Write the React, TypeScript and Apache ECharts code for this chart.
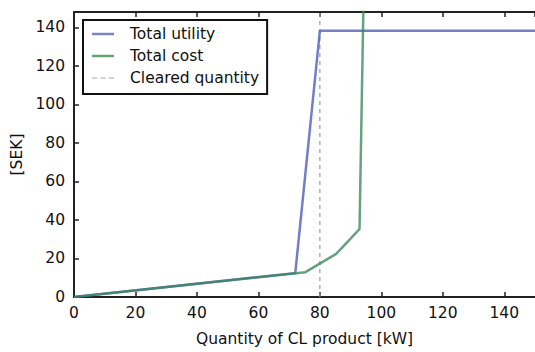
import React, { useEffect, useRef } from "react";
import * as echarts from "echarts";

const utilityPoints: [number, number][] = [
  [0, 0],
  [72, 12.4],
  [80, 138.2],
  [150, 138.2],
];
const costPoints: [number, number][] = [
  [0, 0],
  [75.3, 12.9],
  [85.3, 22.4],
  [92.9, 35.2],
  [94.6, 190],
];
const clearedQuantity = 80;
const xTicks = [0, 20, 40, 60, 80, 100, 120, 140];
const yTicks = [0, 20, 40, 60, 80, 100, 120, 140];
const xMax = 150;
const yMax = 148;

const FONT = "DejaVu Sans";
const FS = 15.5;
const AX = "#222222";

export default function App() {
  const ref = useRef<HTMLDivElement>(null);
  useEffect(() => {
    if (!ref.current) return;
    const chart = echarts.init(ref.current, null, { renderer: "svg" });
    const baseX = {
      type: "value" as const,
      min: 0,
      max: xMax,
      interval: xTicks[1] - xTicks[0],
      splitLine: { show: false },
      axisLine: { show: true, onZero: false, lineStyle: { color: AX, width: 2 } },
      axisTick: { show: true, inside: true, length: 5, lineStyle: { color: AX, width: 1.5 } },
    };
    chart.setOption({
      animation: false,
      backgroundColor: "#ffffff",
      textStyle: { fontFamily: FONT },
      grid: { left: 74, top: 12, right: -2, bottom: 50 },
      legend: {
        left: 83,
        top: 20,
        orient: "vertical",
        backgroundColor: "#ffffff",
        borderColor: "#111111",
        borderWidth: 2,
        borderRadius: 0,
        padding: [6, 8, 8, 9],
        itemWidth: 22,
        itemHeight: 14,
        itemGap: 6,
        textStyle: { fontFamily: FONT, fontSize: FS, color: "#111", padding: [0, 0, 0, 11] },
        data: [
          { name: "Total utility", icon: "path://M0,5.75 L22,5.75 L22,8.25 L0,8.25 Z", itemStyle: { color: "#7784c8" } },
          { name: "Total cost", icon: "path://M0,5.75 L22,5.75 L22,8.25 L0,8.25 Z", itemStyle: { color: "#62a474" } },
          {
            name: "Cleared quantity",
            icon: "path://M0,6.5 L5,6.5 L5,7.5 L0,7.5 Z M8,6.5 L13,6.5 L13,7.5 L8,7.5 Z M16,6.5 L21,6.5 L21,7.5 L16,7.5 Z",
            itemStyle: { color: "#aaaaaa" },
          },
        ],
      },
      xAxis: [
        {
          ...baseX,
          position: "bottom",
          name: "Quantity of CL product [kW]",
          nameLocation: "middle",
          nameGap: 34,
          nameTextStyle: { fontFamily: FONT, fontSize: FS, color: "#111" },
          axisLabel: {
            fontFamily: FONT,
            fontSize: FS,
            color: "#111",
            margin: 8,
            showMaxLabel: false,
            formatter: (v: number) => (xTicks.includes(v) ? String(v) : ""),
          },
        },
        {
          ...baseX,
          position: "top",
          axisLabel: { show: false },
        },
      ],
      yAxis: {
        type: "value",
        min: 0,
        max: yMax,
        interval: yTicks[1] - yTicks[0],
        name: "[SEK]",
        nameLocation: "middle",
        nameGap: 48,
        nameTextStyle: { fontFamily: FONT, fontSize: FS, color: "#111" },
        splitLine: { show: false },
        axisLine: { show: true, lineStyle: { color: AX, width: 2 } },
        axisTick: { show: true, inside: true, length: 5, lineStyle: { color: AX, width: 1.5 } },
        axisLabel: {
          fontFamily: FONT,
          fontSize: FS,
          color: "#111",
          margin: 9,
          showMaxLabel: false,
          formatter: (v: number) => (yTicks.includes(v) ? String(v) : ""),
        },
      },
      series: [
        {
          name: "Total utility",
          type: "line",
          data: utilityPoints,
          symbol: "none",
          clip: true,
          lineStyle: { color: "#4f5fb8", width: 2.5, opacity: 0.8 },
          itemStyle: { color: "#7784c8" },
          z: 2,
        },
        {
          name: "Total cost",
          type: "line",
          data: costPoints,
          symbol: "none",
          clip: true,
          lineStyle: { color: "#358558", width: 2.5, opacity: 0.76 },
          itemStyle: { color: "#62a474" },
          z: 3,
        },
        {
          name: "Cleared quantity",
          type: "line",
          data: [
            [clearedQuantity, 0],
            [clearedQuantity, yMax],
          ],
          symbol: "none",
          lineStyle: { color: "#999999", width: 1.2, type: [4, 4] },
          itemStyle: { color: "#aaaaaa" },
          z: 1,
        },
      ],
    });
    return () => chart.dispose();
  }, []);
  return <div ref={ref} style={{ width: 535, height: 352, position: "absolute", left: 0, top: 0 }} />;
}
